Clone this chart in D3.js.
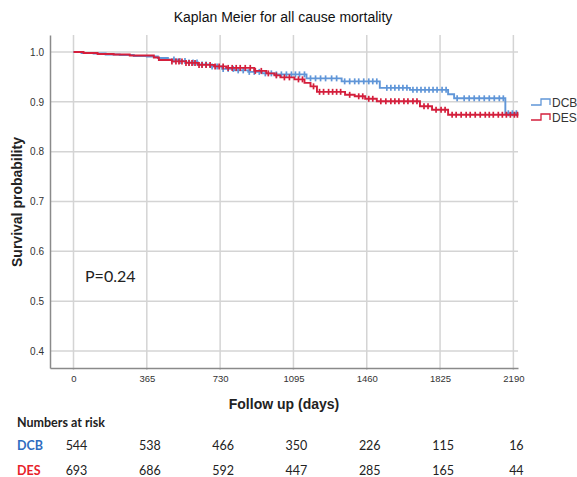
<!DOCTYPE html>
<html>
<head>
<meta charset="utf-8">
<script src="https://cdn.jsdelivr.net/npm/d3@7"></script>
<style>
  body { margin: 0; background: #fff; }
  svg { display: block; }
</style>
</head>
<body>
<div id="chart"></div>
<script>
// axis ticks
const xTicks = [0, 365, 730, 1095, 1460, 1825, 2190];
const yTicks = [0.4, 0.5, 0.6, 0.7, 0.8, 0.9, 1.0];

// DCB Kaplan-Meier steps (day, survival after the step)
const dcbTimes = [0, 40, 100, 160, 230, 300, 365, 420, 470, 520, 560, 620, 680, 740, 800, 870, 940, 1000, 1160, 1335, 1525, 1675, 1865, 1895, 2150];
const dcbSurv  = [1.000, 0.998, 0.997, 0.995, 0.994, 0.992, 0.991, 0.988, 0.985, 0.982, 0.979, 0.975, 0.971, 0.966, 0.963, 0.960, 0.957, 0.955, 0.947, 0.941, 0.928, 0.924, 0.915, 0.907, 0.877];

// DES Kaplan-Meier steps
const desTimes = [0, 50, 120, 200, 280, 400, 425, 490, 560, 620, 700, 760, 900, 960, 1000, 1030, 1100, 1150, 1180, 1212, 1352, 1400, 1452, 1510, 1725, 1785, 1865];
const desSurv  = [1.000, 0.998, 0.996, 0.995, 0.993, 0.989, 0.984, 0.981, 0.978, 0.974, 0.971, 0.968, 0.962, 0.957, 0.953, 0.949, 0.945, 0.938, 0.931, 0.920, 0.914, 0.911, 0.906, 0.901, 0.891, 0.884, 0.874];

const lastDay = 2215;

// censored observations (days)
const dcbCensor = [500, 530, 555, 575, 595, 615, 640, 660, 690, 715, 745, 770, 795, 820, 845, 875, 900, 925, 955, 985, 1010, 1035, 1060, 1085, 1105, 1125, 1150, 1180, 1205, 1230, 1255, 1285, 1310, 1350, 1375, 1400, 1420, 1445, 1470, 1490, 1510, 1560, 1580, 1600, 1620, 1640, 1660, 1690, 1710, 1730, 1750, 1770, 1790, 1810, 1835, 1855, 1910, 1945, 1970, 1995, 2020, 2045, 2070, 2095, 2120, 2140, 2165, 2185, 2205];
const desCensor = [490, 510, 525, 540, 560, 575, 590, 605, 625, 640, 660, 680, 705, 725, 745, 770, 790, 810, 830, 855, 880, 905, 935, 970, 1010, 1050, 1075, 1120, 1140, 1195, 1225, 1245, 1270, 1290, 1310, 1330, 1375, 1420, 1440, 1470, 1490, 1530, 1555, 1580, 1600, 1620, 1645, 1665, 1690, 1710, 1745, 1765, 1805, 1830, 1850, 1885, 1905, 1930, 1955, 1975, 2000, 2025, 2050, 2070, 2090, 2115, 2135, 2155, 2175, 2195, 2210];

// numbers at risk table
const riskGroups = ['DCB', 'DES'];
const dcbRisk = [544, 538, 466, 350, 226, 115, 16];
const desRisk = [693, 686, 592, 447, 285, 165, 44];

const W = 577, H = 477;
const plot = {left: 50, right: 518, top: 35, bottom: 368};
const blue = '#6096d8', red = '#d41f3c';

const svg = d3.select('#chart').append('svg')
  .attr('width', W)
  .attr('height', H)
  .style('font-family', 'Liberation Sans, Arial, sans-serif');

const x = d3.scaleLinear()
  .domain([-117, 2213])
  .range([plot.left, plot.right]);

const y = d3.scaleLinear()
  .domain([0.366, 1.034])
  .range([plot.bottom, plot.top]);

// grid
svg.append('g')
  .selectAll('line')
  .data(yTicks)
  .join('line')
    .attr('x1', plot.left)
    .attr('x2', plot.right)
    .attr('y1', d => y(d))
    .attr('y2', d => y(d))
    .attr('stroke', '#d4d4d4')
    .attr('stroke-width', 1.5);

svg.append('g')
  .selectAll('line')
  .data(xTicks)
  .join('line')
    .attr('x1', d => x(d))
    .attr('x2', d => x(d))
    .attr('y1', plot.top)
    .attr('y2', plot.bottom + 2)
    .attr('stroke', '#d4d4d4')
    .attr('stroke-width', 1.5);

// axes
const yAxis = svg.append('g')
  .attr('transform', `translate(${plot.left},0)`)
  .call(d3.axisLeft(y).tickValues(yTicks).tickFormat(d3.format('.1f')).tickSize(0).tickPadding(6));
yAxis.select('.domain').attr('stroke', '#8a8a8a').attr('stroke-width', 1.5);
yAxis.selectAll('text').attr('font-size', 10).attr('fill', '#333').attr('font-family', 'Liberation Sans, Arial, sans-serif');

const xAxis = svg.append('g')
  .attr('transform', `translate(0,${plot.bottom})`)
  .call(d3.axisBottom(x).tickValues(xTicks).tickFormat(d3.format('d')).tickSize(0).tickPadding(7));
xAxis.select('.domain').attr('stroke', '#8a8a8a').attr('stroke-width', 1.5);
xAxis.selectAll('text').attr('font-size', 9.5).attr('fill', '#333').attr('font-family', 'Liberation Sans, Arial, sans-serif');

// survival curves
function stepData(times, surv) {
  const pts = times.map((t, i) => ({t: t, s: surv[i]}));
  pts.push({t: lastDay, s: surv[surv.length - 1]});
  return pts;
}

function survAt(times, surv, t) {
  let s = surv[0];
  for (let i = 0; i < times.length; i++) {
    if (times[i] <= t) s = surv[i];
  }
  return s;
}

const line = d3.line()
  .x(d => x(d.t))
  .y(d => y(d.s))
  .curve(d3.curveStepAfter);

const series = [
  {name: 'DCB', times: dcbTimes, surv: dcbSurv, censor: dcbCensor, color: blue},
  {name: 'DES', times: desTimes, surv: desSurv, censor: desCensor, color: red}
];

series.forEach(sr => {
  const g = svg.append('g');
  g.append('path')
    .datum(stepData(sr.times, sr.surv))
    .attr('d', line)
    .attr('fill', 'none')
    .attr('stroke', sr.color)
    .attr('stroke-width', 1.9);

  g.selectAll('line')
    .data(sr.censor)
    .join('line')
      .attr('x1', d => x(d))
      .attr('x2', d => x(d))
      .attr('y1', d => y(survAt(sr.times, sr.surv, d)) - 3)
      .attr('y2', d => y(survAt(sr.times, sr.surv, d)) + 3)
      .attr('stroke', sr.color)
      .attr('stroke-width', 1.7);
});

// legend
const legend = svg.append('g').attr('transform', 'translate(531,0)');
series.forEach((sr, i) => {
  const base = 105 + i * 15;
  legend.append('path')
    .attr('d', `M0,${base} H10 V${base - 6} H19 V${base}`)
    .attr('fill', 'none')
    .attr('stroke', sr.color)
    .attr('stroke-width', 1.3);
  legend.append('text')
    .attr('x', 21)
    .attr('y', base + 2)
    .attr('font-size', 12)
    .attr('fill', '#333')
    .text(sr.name);
});

// titles
svg.append('text')
  .attr('x', 283)
  .attr('y', 22)
  .attr('text-anchor', 'middle')
  .attr('font-size', 14)
  .attr('fill', '#111')
  .text('Kaplan Meier for all cause mortality');

svg.append('text')
  .attr('transform', `translate(22,${202}) rotate(-90)`)
  .attr('text-anchor', 'middle')
  .attr('font-size', 14)
  .attr('font-weight', 'bold')
  .attr('fill', '#222')
  .text('Survival probability');

svg.append('text')
  .attr('x', 284)
  .attr('y', 409)
  .attr('text-anchor', 'middle')
  .attr('font-size', 14)
  .attr('font-weight', 'bold')
  .attr('fill', '#222')
  .text('Follow up (days)');

svg.append('text')
  .attr('x', 85)
  .attr('y', 282)
  .attr('font-size', 16)
  .attr('font-family', 'Lato, sans-serif')
  .attr('fill', '#222')
  .text('P=0.24');

// numbers at risk
const risk = svg.append('g').style('font-family', 'Lato, "Open Sans", sans-serif');
risk.append('text')
  .attr('x', 17)
  .attr('y', 427)
  .attr('font-size', 12.5)
  .attr('font-weight', 'bold')
  .attr('fill', '#222')
  .text('Numbers at risk');

const riskRows = [
  {name: riskGroups[0], values: dcbRisk, color: '#2f6cc0', yPos: 450},
  {name: riskGroups[1], values: desRisk, color: '#e8222a', yPos: 475}
];

riskRows.forEach(r => {
  risk.append('text')
    .attr('x', 17)
    .attr('y', r.yPos)
    .attr('font-size', 12.5)
    .attr('font-weight', 'bold')
    .attr('fill', r.color)
    .text(r.name);
  risk.selectAll(null)
    .data(r.values)
    .join('text')
      .attr('x', (d, i) => x(xTicks[i]) + 3)
      .attr('y', r.yPos)
      .attr('text-anchor', 'middle')
      .attr('font-size', 12.5)
      .attr('fill', '#222')
      .text(d => d);
});
</script>
</body>
</html>
